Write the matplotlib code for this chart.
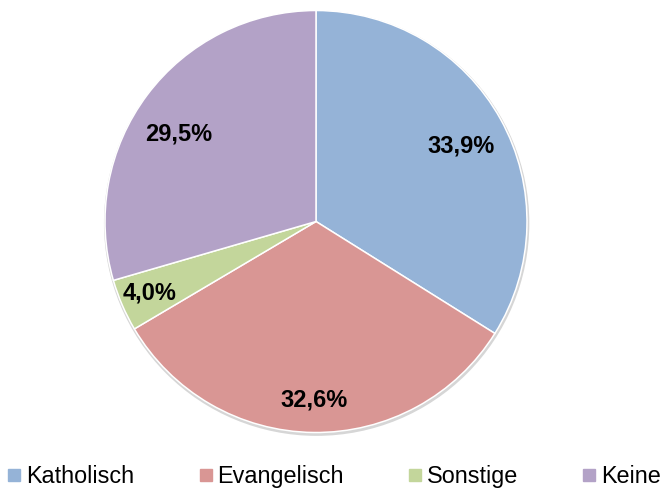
import matplotlib.pyplot as plt
import numpy as np
from matplotlib.lines import Line2D
from matplotlib.patches import Circle

plt.rcParams["font.family"] = ["Liberation Sans", "DejaVu Sans"]

categories = ["Katholisch", "Evangelisch", "Sonstige", "Keine"]
shares = [33.9, 32.6, 4.0, 29.5]
labels = ["33,9%", "32,6%", "4,0%", "29,5%"]
colors = ["#95B3D7", "#D99694", "#C3D69B", "#B3A2C7"]
label_radius = [0.773, 0.844, 0.858, 0.773]
label_turn = [-1.6, 0.0, 0.0, 4.3]  # small angular nudges, degrees

fig = plt.figure(figsize=(6.63, 4.9), dpi=100)
W, H = 663, 490
cx, cy, r = 316, 490 - 221.5, 211
pad = 1.05
ax = fig.add_axes([(cx - r * pad) / W, (cy - r * pad) / H, 2 * pad * r / W, 2 * pad * r / H])

# faint shadow around the pie
ax.add_patch(Circle((0.003, -0.008), 1.008, color="#d6d6d6", zorder=0, lw=0))

wedges, _ = ax.pie(shares, colors=colors, startangle=90, counterclock=False,
                   radius=1, wedgeprops=dict(edgecolor="white", linewidth=1.1))
for w in wedges:
    w.set_zorder(1)

for w, lab, rr, turn in zip(wedges, labels, label_radius, label_turn):
    ang = np.deg2rad((w.theta1 + w.theta2) / 2 + turn)
    ax.text(rr * np.cos(ang), rr * np.sin(ang), lab, ha="center", va="center",
            fontsize=17, fontweight="bold", color="black", zorder=3)

ax.set_xlim(-pad, pad)
ax.set_ylim(-pad, pad)
ax.set_aspect("equal")
ax.axis("off")

handles = [Line2D([], [], marker="s", linestyle="none", markersize=8,
                  markerfacecolor=c, markeredgecolor=c) for c in colors]
fig.legend(handles, categories, loc="center", bbox_to_anchor=(0.505, 0.027),
           ncol=4, frameon=False, fontsize=16.8, handlelength=0.5,
           handletextpad=0.26, columnspacing=2.8, borderpad=0)

fig.savefig("out.png", dpi=100)
